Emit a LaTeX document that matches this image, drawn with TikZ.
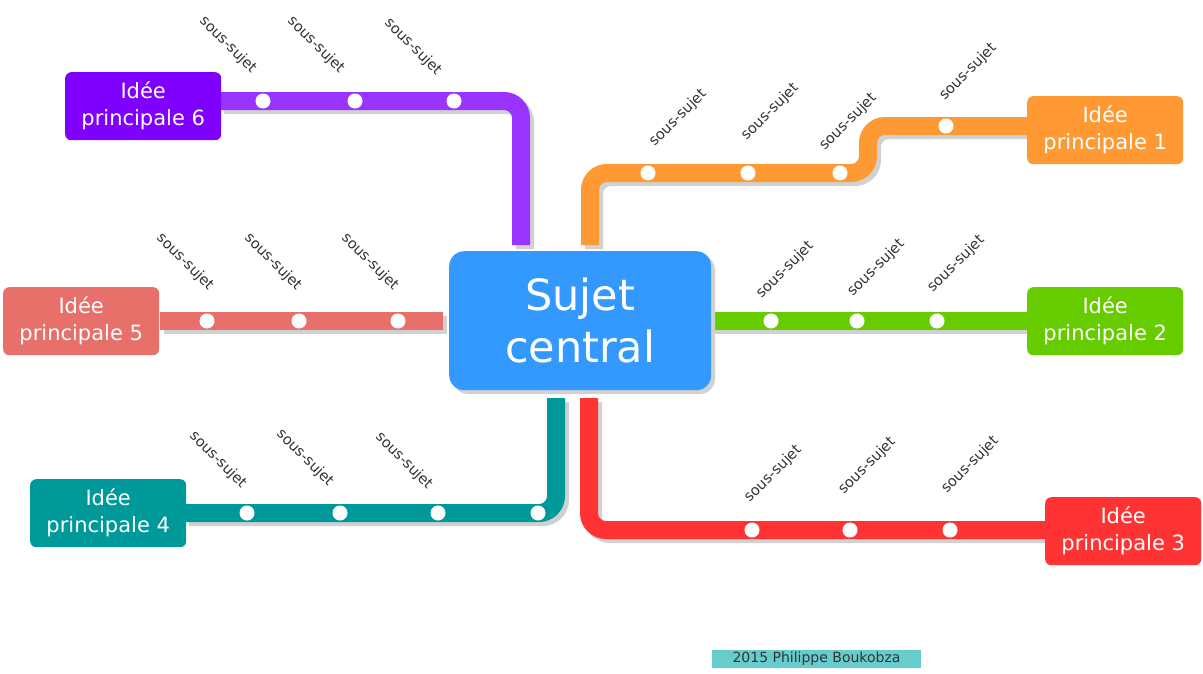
\documentclass[tikz,border=0pt]{standalone}
\usepackage{fontspec}
\setmainfont{DejaVu Sans}
\begin{document}
\begin{tikzpicture}[x=1pt,y=-1pt,
  idee/.style={rounded corners=6pt,minimum width=156pt,minimum height=68pt,align=center,text=white,font=\fontsize{21}{27}\selectfont,anchor=north west,inner sep=0pt},
  line/.style={line width=18pt,rounded corners=17pt},
  shadow/.style={line width=18pt,rounded corners=17pt,draw=black!18,shift={(4,4)}},
  dot/.style={circle,fill=white,inner sep=0pt,minimum size=15pt},
  lab/.style={font=\fontsize{14.5}{16}\selectfont,text=black!80,inner sep=0pt}]
\definecolor{cpur}{HTML}{9933FF}\definecolor{cpurn}{HTML}{8000FF}
\definecolor{cora}{HTML}{FF9933}\definecolor{cgre}{HTML}{66CC00}
\definecolor{cred}{HTML}{FF3333}\definecolor{ctea}{HTML}{009999}
\definecolor{csal}{HTML}{E8706A}\definecolor{ccen}{HTML}{3399FF}
\definecolor{ccred}{HTML}{66CCCC}
\useasboundingbox (0,0) rectangle (1203,673);
% shadows
\draw[shadow] (220,101) -- (521,101) -- (521,245);
\draw[shadow] (590,245) -- (590,173) -- (868,173) -- (868,126) -- (1027,126);
\draw[shadow] (710,321) -- (1027,321);
\draw[shadow] (589,398) -- (589,530) -- (1045,530);
\draw[shadow] (556,398) -- (556,513) -- (185,513);
\draw[shadow] (443,321) -- (160,321);
% lines
\draw[line,cpur] (220,101) -- (521,101) -- (521,245);
\draw[line,cora] (590,245) -- (590,173) -- (868,173) -- (868,126) -- (1027,126);
\draw[line,cgre] (710,321) -- (1027,321);
\draw[line,cred] (589,398) -- (589,530) -- (1045,530);
\draw[line,ctea] (556,398) -- (556,513) -- (185,513);
\draw[line,csal] (443,321) -- (160,321);
% central
\fill[black!18,rounded corners=15pt] (453,255) rectangle (715,394);
\node[fill=ccen,rounded corners=15pt,minimum width=262pt,minimum height=139pt,anchor=north west,inner sep=0pt,text=white,align=center,font=\fontsize{43}{52}\selectfont] (c) at (449,251) {Sujet\\central};
% idea nodes
\node[idee,fill=cora] (i1) at (1027,96) {Idée\\principale 1};
\node[idee,fill=cgre] (i2) at (1027,287) {Idée\\principale 2};
\node[idee,fill=cred] (i3) at (1045,497) {Idée\\principale 3};
\node[idee,fill=ctea] (i4) at (30,479) {Idée\\principale 4};
\node[idee,fill=csal] (i5) at (3,287) {Idée\\principale 5};
\node[idee,fill=cpurn] (i6) at (65,72) {Idée\\principale 6};
% dots
\foreach \x/\y [count=\i] in {263/101,355/101,454/101,648/173,748/173,840/173,946/126,771/321,857/321,937/321,752/530,850/530,950/530,247/513,340/513,438/513,538/513,207/321,299/321,398/321}
  \node[dot] (d\i) at (\x,\y) {};
% labels
\foreach \x/\y in {228/45,316/45,413/47,185/262,273/262,370/262,218/460,305/458,404/461}
  \node[lab,rotate=-45] at (\x,\y) {sous-sujet};
\foreach \x/\y in {678/118,770/112,848/122,968/72,785/270,876/268,956/264,773/474,867/466,970/465}
  \node[lab,rotate=45] at (\x,\y) {sous-sujet};
% credit
\node[fill=ccred,minimum width=209pt,minimum height=18pt,inner sep=0pt,font=\fontsize{14}{16}\selectfont,text=black!80] (cr) at (816.5,659) {2015 Philippe Boukobza};
\end{tikzpicture}
\end{document}
